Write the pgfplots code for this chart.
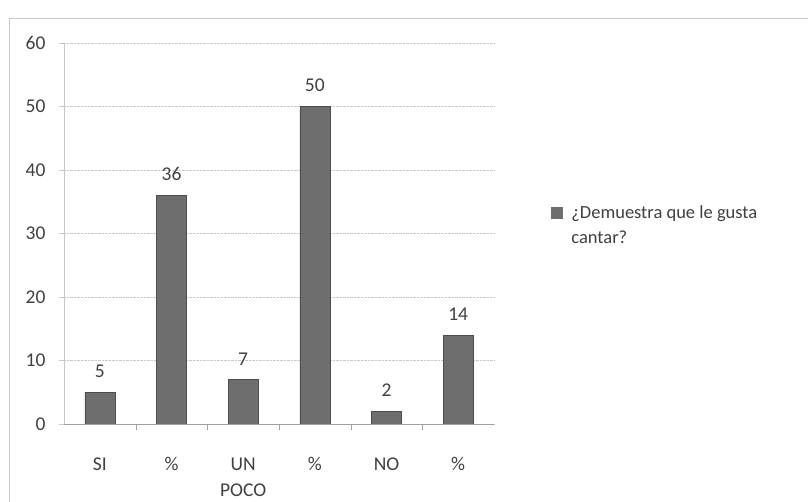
\documentclass[border=0pt]{standalone}
\usepackage{pgfplots}
\pgfplotsset{compat=1.18}
\usepackage{fontspec}
\setmainfont{Carlito}
\definecolor{bargray}{RGB}{110,110,110}
\definecolor{txtgray}{RGB}{64,64,64}
\definecolor{gridgray}{RGB}{200,200,200}
\begin{document}
\begin{tikzpicture}
\path[use as bounding box] (0pt,0pt) rectangle (808pt,502pt);
\draw[gridgray, line width=0.8pt] (9pt,0pt) -- (9pt,484pt) -- (808pt,484pt);
\begin{axis}[
  at={(64pt,78pt)}, anchor=south west,
  scale only axis, width=430pt, height=381pt,
  ymin=0, ymax=60, ytick={0,10,...,60},
  xmin=-0.5, xmax=5.5, xtick={0,...,5},
  xticklabels={SI,\%,{UN\\[2pt]POCO},\%,NO,\%},
  minor xtick={0.5,1.5,2.5,3.5,4.5},
  font=\fontsize{19.5}{24}\selectfont,
  /pgf/number format/assume math mode=true,
  tick label style={text=txtgray},
  xticklabel style={align=center, yshift=-25pt},
  yticklabel style={xshift=-10pt},
  axis x line*=bottom, axis y line*=left,
  x axis line style={draw=gridgray!80!black, line width=0.8pt},
  y axis line style={draw=gridgray, line width=0.8pt},
  tick align=outside,
  major x tick style={draw=none},
  minor x tick style={draw=gridgray!80!black},
  minor tick length=6pt,
  major y tick style={draw=gridgray},
  major tick length=5pt,
  ymajorgrids, grid style={gridgray, densely dotted, line width=0.8pt},
  ybar, bar width=30pt,
  nodes near coords,
  nodes near coords style={text=txtgray, yshift=11pt},
  legend style={at={(1.125,0.555)}, anchor=west, draw=none, fill=none,
    cells={anchor=base west}, font=\fontsize{18.5}{23}\selectfont, text=txtgray},
  legend image code/.code={\fill[bargray] (0pt,0pt) rectangle (11pt,11pt); \path (18pt,0pt);},
]
\addplot[fill=bargray, draw=bargray!70!black] coordinates {(0,5) (1,36) (2,7) (3,50) (4,2) (5,14)};
\addlegendentry{\parbox[t]{240pt}{\raggedright ¿Demuestra que le gusta\\[2pt]cantar?}}
\end{axis}
\end{tikzpicture}
\end{document}
